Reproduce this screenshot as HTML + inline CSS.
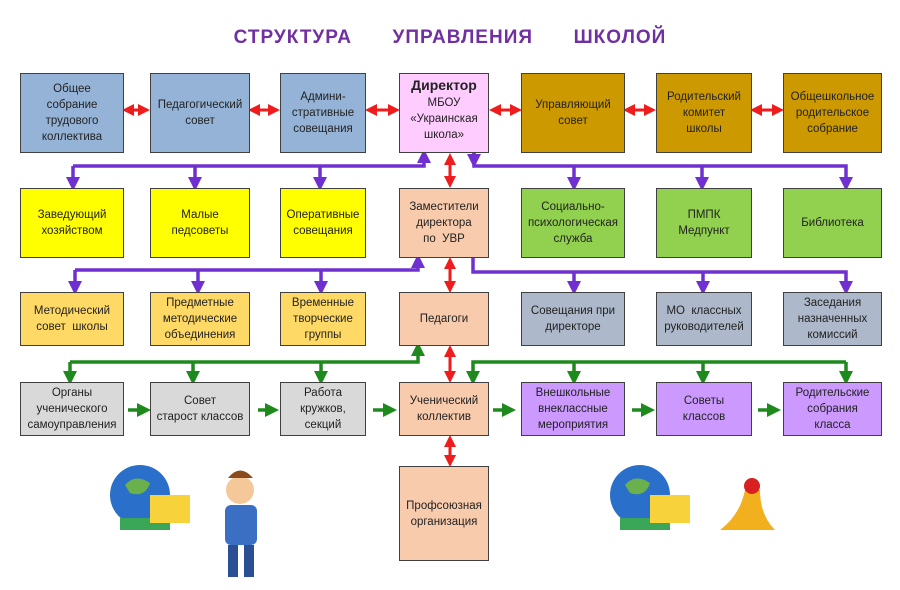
<!DOCTYPE html>
<html><head><meta charset="utf-8"><style>
body{margin:0;width:900px;height:590px;background:#fff;position:relative;overflow:hidden;font-family:"Liberation Sans","DejaVu Sans",sans-serif;}
.b{position:absolute;box-sizing:border-box;border:1.5px solid #404040;display:flex;align-items:center;justify-content:center;text-align:center;font-size:11.5px;line-height:16px;color:#222;}
.t{position:absolute;left:0;width:900px;top:27px;text-align:center;color:#7030a0;font-weight:bold;font-size:19px;letter-spacing:1px;word-spacing:14px;}
svg{position:absolute;left:0;top:0;}
</style></head><body>
<div class="t">СТРУКТУРА &nbsp;УПРАВЛЕНИЯ &nbsp;ШКОЛОЙ</div>
<svg width="900" height="590">
<defs>
<marker id="p" markerWidth="4" markerHeight="4" refX="2" refY="2" orient="auto" markerUnits="strokeWidth"><path d="M0,0L4,2L0,4z" fill="#7030d0"/></marker>
<marker id="g" markerWidth="4" markerHeight="4" refX="2" refY="2" orient="auto" markerUnits="strokeWidth"><path d="M0,0L4,2L0,4z" fill="#1e8a1e"/></marker>
<marker id="r" markerWidth="4" markerHeight="4" refX="2" refY="2" orient="auto-start-reverse" markerUnits="strokeWidth"><path d="M0,0L4,2L0,4z" fill="#ee1c1c"/></marker>
</defs>
<g stroke="#7030d0" stroke-width="3.5" fill="none">
<path d="M73,166H424V156" marker-end="url(#p)"/>
<path d="M73,166V184" marker-end="url(#p)"/><path d="M195,166V184" marker-end="url(#p)"/><path d="M320,166V184" marker-end="url(#p)"/>
<path d="M474,152V166H846V184" marker-end="url(#p)"/>
<path d="M474,152V161" marker-end="url(#p)"/>
<path d="M574,166V184" marker-end="url(#p)"/><path d="M702,166V184" marker-end="url(#p)"/>
<path d="M75,270H418V261" marker-end="url(#p)"/>
<path d="M75,270V288" marker-end="url(#p)"/><path d="M198,270V288" marker-end="url(#p)"/><path d="M321,270V288" marker-end="url(#p)"/>
<path d="M473,257V272H846V288" marker-end="url(#p)"/>
<path d="M574,272V288" marker-end="url(#p)"/><path d="M703,272V288" marker-end="url(#p)"/>
</g>
<g stroke="#1e8a1e" stroke-width="3.5" fill="none">
<path d="M70,362H418V349" marker-end="url(#g)"/>
<path d="M70,362V378" marker-end="url(#g)"/><path d="M193,362V378" marker-end="url(#g)"/><path d="M321,362V378" marker-end="url(#g)"/>
<path d="M846,362H473V378" marker-end="url(#g)"/>
<path d="M574,362V378" marker-end="url(#g)"/><path d="M703,362V378" marker-end="url(#g)"/><path d="M846,362V378" marker-end="url(#g)"/>
<path d="M128,410H144" marker-end="url(#g)"/><path d="M258,410H272" marker-end="url(#g)"/><path d="M373,410H390" marker-end="url(#g)"/>
<path d="M493,410H509" marker-end="url(#g)"/><path d="M632,410H648" marker-end="url(#g)"/><path d="M758,410H774" marker-end="url(#g)"/>
</g>
<g stroke="#ee1c1c" stroke-width="3" fill="none">
<path d="M128,110H144" marker-start="url(#r)" marker-end="url(#r)"/>
<path d="M254,110H274" marker-start="url(#r)" marker-end="url(#r)"/>
<path d="M371,110H394" marker-start="url(#r)" marker-end="url(#r)"/>
<path d="M495,110H516" marker-start="url(#r)" marker-end="url(#r)"/>
<path d="M629,110H650" marker-start="url(#r)" marker-end="url(#r)"/>
<path d="M756,110H778" marker-start="url(#r)" marker-end="url(#r)"/>
<path d="M450,159V182" marker-start="url(#r)" marker-end="url(#r)"/>
<path d="M450,263V287" marker-start="url(#r)" marker-end="url(#r)"/>
<path d="M450,351V377" marker-start="url(#r)" marker-end="url(#r)"/>
<path d="M450,441V461" marker-start="url(#r)" marker-end="url(#r)"/>
</g>
<circle cx="140" cy="495" r="30" fill="#2a6fc9"/><path d="M125,485q10,-12 25,-2q-5,15 -20,10z" fill="#6ab04c"/>
<rect x="120" y="518" width="50" height="12" fill="#3aa657"/><rect x="150" y="495" width="40" height="28" fill="#f7d23a"/>
<circle cx="240" cy="490" r="14" fill="#f5c89a"/><path d="M228,478q12,-15 25,0z" fill="#8b4a1c"/>
<rect x="225" y="505" width="32" height="40" rx="6" fill="#3b6fc4"/><rect x="228" y="545" width="10" height="32" fill="#2a4f94"/><rect x="244" y="545" width="10" height="32" fill="#2a4f94"/>
<circle cx="640" cy="495" r="30" fill="#2a6fc9"/><path d="M625,485q10,-12 25,-2q-5,15 -20,10z" fill="#6ab04c"/>
<rect x="620" y="518" width="50" height="12" fill="#3aa657"/><rect x="650" y="495" width="40" height="28" fill="#f7d23a"/>
<path d="M745,490q-5,25 -25,40h55q-15,-15 -15,-40z" fill="#f2b01e"/><circle cx="752" cy="486" r="8" fill="#d82020"/>
</svg>
<div class="b" style="left:20px;top:73px;width:104px;height:80px;background:#95b3d7">Общее<br>собрание<br>трудового<br>коллектива</div>
<div class="b" style="left:150px;top:73px;width:100px;height:80px;background:#95b3d7">Педагогический<br>совет</div>
<div class="b" style="left:280px;top:73px;width:86px;height:80px;background:#95b3d7">Админи-<br>стративные<br>совещания</div>
<div class="b" style="left:399px;top:73px;width:90px;height:80px;background:#ffccff;align-items:flex-start;padding-top:3px"><div><b style="font-size:14px">Директор</b><br>МБОУ<br>«Украинская<br>школа»</div></div>
<div class="b" style="left:521px;top:73px;width:104px;height:80px;background:#cc9900">Управляющий<br>совет</div>
<div class="b" style="left:656px;top:73px;width:96px;height:80px;background:#cc9900">Родительский<br>комитет<br>школы</div>
<div class="b" style="left:783px;top:73px;width:99px;height:80px;background:#cc9900">Общешкольное<br>родительское<br>собрание</div>

<div class="b" style="left:20px;top:188px;width:104px;height:70px;background:#ffff00">Заведующий<br>хозяйством</div>
<div class="b" style="left:150px;top:188px;width:100px;height:70px;background:#ffff00">Малые<br>педсоветы</div>
<div class="b" style="left:280px;top:188px;width:86px;height:70px;background:#ffff00">Оперативные<br>совещания</div>
<div class="b" style="left:399px;top:188px;width:90px;height:70px;background:#f8cbad">Заместители<br>директора<br>по &nbsp;УВР</div>
<div class="b" style="left:521px;top:188px;width:104px;height:70px;background:#92d050">Социально-<br>психологическая<br>служба</div>
<div class="b" style="left:656px;top:188px;width:96px;height:70px;background:#92d050">ПМПК<br>Медпункт</div>
<div class="b" style="left:783px;top:188px;width:99px;height:70px;background:#92d050">Библиотека</div>

<div class="b" style="left:20px;top:292px;width:104px;height:54px;background:#ffd966">Методический<br>совет &nbsp;школы</div>
<div class="b" style="left:150px;top:292px;width:100px;height:54px;background:#ffd966">Предметные<br>методические<br>объединения</div>
<div class="b" style="left:280px;top:292px;width:86px;height:54px;background:#ffd966">Временные<br>творческие<br>группы</div>
<div class="b" style="left:399px;top:292px;width:90px;height:54px;background:#f8cbad">Педагоги</div>
<div class="b" style="left:521px;top:292px;width:104px;height:54px;background:#adb9ca">Совещания при<br>директоре</div>
<div class="b" style="left:656px;top:292px;width:96px;height:54px;background:#adb9ca">МО &nbsp;классных<br>руководителей</div>
<div class="b" style="left:783px;top:292px;width:99px;height:54px;background:#adb9ca">Заседания<br>назначенных<br>комиссий</div>

<div class="b" style="left:20px;top:382px;width:104px;height:54px;background:#d9d9d9">Органы<br>ученического<br>самоуправления</div>
<div class="b" style="left:150px;top:382px;width:100px;height:54px;background:#d9d9d9">Совет<br>старост классов</div>
<div class="b" style="left:280px;top:382px;width:86px;height:54px;background:#d9d9d9">Работа<br>кружков,<br>секций</div>
<div class="b" style="left:399px;top:382px;width:90px;height:54px;background:#f8cbad">Ученический<br>коллектив</div>
<div class="b" style="left:521px;top:382px;width:104px;height:54px;background:#cc99ff">Внешкольные<br>внеклассные<br>мероприятия</div>
<div class="b" style="left:656px;top:382px;width:96px;height:54px;background:#cc99ff">Советы<br>классов</div>
<div class="b" style="left:783px;top:382px;width:99px;height:54px;background:#cc99ff">Родительские<br>собрания<br>класса</div>

<div class="b" style="left:399px;top:466px;width:90px;height:95px;background:#f8cbad">Профсоюзная<br>организация</div>
</body></html>
